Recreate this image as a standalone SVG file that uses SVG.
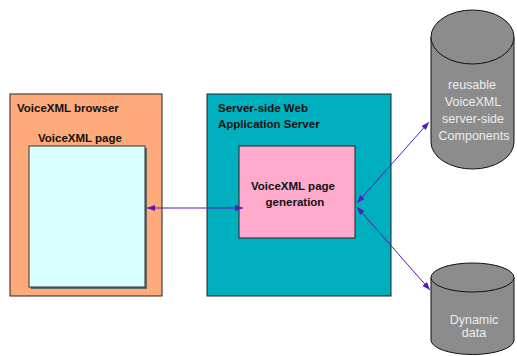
<svg xmlns="http://www.w3.org/2000/svg" width="517" height="356" viewBox="0 0 517 356">
<defs>
<style>
.box{stroke:#222;stroke-width:1}
.ttl{font-family:"Liberation Sans",Arial,sans-serif;font-weight:bold;font-size:11.5px;fill:#111}
.cyl{fill:#8c8c8c;stroke:#111;stroke-width:1}
.ctx{font-family:"Liberation Sans",Arial,sans-serif;font-size:12.5px;fill:#ececec;text-anchor:middle}
.con{stroke:#5a18b4;stroke-width:1;fill:none;marker-start:url(#ah);marker-end:url(#ah)}
</style>
<marker id="ah" viewBox="0 0 8 6" refX="8" refY="3" markerWidth="8" markerHeight="6" markerUnits="userSpaceOnUse" orient="auto-start-reverse">
<path d="M0,0 L8,3 L0,6 z" fill="#5a18b4"/>
</marker>
</defs>
<rect width="517" height="356" fill="#fff"/>
<g id="browser">
<rect class="box" x="10" y="94" width="152" height="202" fill="#ffaa7a"/>
<text class="ttl" x="17" y="112">VoiceXML browser</text>
<text class="ttl" x="38" y="142">VoiceXML page</text>
</g>
<g id="page">
<rect x="31" y="148" width="116" height="141" fill="#666"/>
<rect x="29" y="146" width="116" height="141" fill="#d9ffff" stroke="#333" stroke-width="1"/>
</g>
<g id="server">
<rect class="box" x="207" y="94" width="184" height="202" fill="#00afbe"/>
<text class="ttl" x="218" y="112">Server-side Web</text>
<text class="ttl" x="218" y="128">Application Server</text>
</g>
<g id="generation">
<rect class="box" x="239" y="146" width="116" height="92" fill="#ffaacc"/>
<text class="ttl" x="293" y="190" text-anchor="middle">VoiceXML page</text>
<text class="ttl" x="295" y="206" text-anchor="middle">generation</text>
</g>
<g id="components">
<path class="cyl" d="M431,37 L431,142 A41.5,27 0 0 0 514,142 L514,37"/>
<ellipse class="cyl" cx="472.5" cy="37" rx="41.5" ry="27"/>
<text class="ctx" x="472" y="89">reusable</text>
<text class="ctx" x="473" y="106">VoiceXML</text>
<text class="ctx" x="473" y="123">server-side</text>
<text class="ctx" x="474" y="140">Components</text>
</g>
<g id="dynamic">
<path class="cyl" d="M431,277.5 L431,340 A41.5,14.5 0 0 0 514,340 L514,277.5"/>
<ellipse class="cyl" cx="472.5" cy="277.5" rx="41.5" ry="14.5"/>
<text class="ctx" x="474" y="324">Dynamic</text>
<text class="ctx" x="474" y="337">data</text>
</g>
<g id="connectors">
<line class="con" x1="147" y1="208" x2="243" y2="208"/>
<line class="con" x1="357" y1="203" x2="429" y2="122"/>
<line class="con" x1="357" y1="207" x2="430" y2="290"/>
</g>
</svg>
